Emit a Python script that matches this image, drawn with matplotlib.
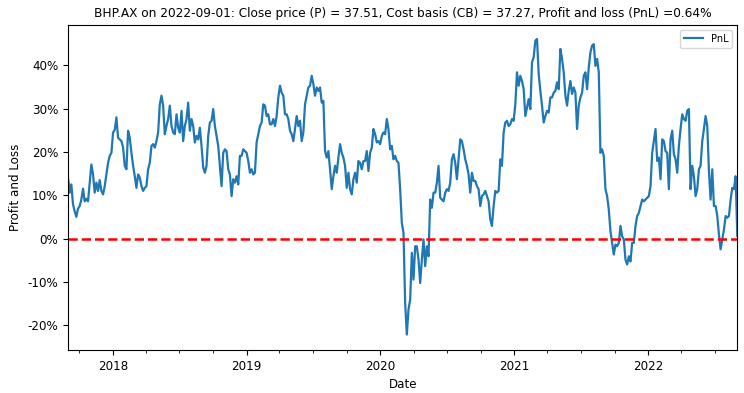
import numpy as np
import pandas as pd
import matplotlib
matplotlib.use('Agg')
import matplotlib.pyplot as plt
import matplotlib.dates as mdates
from matplotlib.ticker import PercentFormatter

params = {
    'font.size': 8.6,
    'font.family': 'DejaVu Sans',
    'xtick.labelsize': 8.6,
    'ytick.labelsize': 8.6,
    'axes.unicode_minus': False,
}
matplotlib.rcParams.update(params)

ticker = 'BHP.AX'
last_date = '2022-09-01'
close_price = 37.51
cost_basis = 37.27
last_pnl = 0.64
start_date = '2017-09-01'

# profit and loss in % (about every 4.5 days)
pnl_2017_18 = [14.1, 10.6, 12.5, 7.9, 6.3, 5.0, 6.9, 7.5, 9.0, 11.5, 8.6, 9.2, 8.6, 12.9, 17.1, 14.8,
               10.6, 12.9, 11.0, 13.5, 11.0, 10.2, 12.1, 14.8, 17.5, 19.1, 19.8, 24.5, 25.1, 28.0, 23.3,
               22.9, 22.5, 21.0, 16.8, 16.0, 24.9, 23.3, 19.8, 16.8, 14.4, 11.7, 14.8, 14.1, 12.1, 11.0,
               11.7, 12.1, 16.0, 17.5, 21.4, 21.8, 21.0, 22.5, 24.5, 31.0, 33.0, 30.7, 24.1, 26.0, 27.6,
               30.7, 26.0, 24.5, 24.1, 28.7, 25.6]
pnl_2018_19 = [24.5, 29.5, 22.5, 26.0, 27.6, 31.4, 24.9, 27.6, 26.0, 22.2, 23.7, 22.9, 25.6, 21.4, 16.4,
               15.2, 16.8, 23.7, 26.8, 27.2, 29.9, 26.0, 23.7, 21.4, 16.8, 12.1, 19.8, 20.6, 20.2, 16.0,
               14.8, 9.8, 13.7, 12.9, 14.4, 12.5, 19.1, 19.1, 20.6, 20.2, 19.8, 17.9, 15.2, 16.0, 14.8,
               15.2, 22.2, 24.1, 26.0, 26.8, 31.0, 30.7, 28.3, 28.7, 26.4, 26.4, 27.6, 26.0, 28.3, 32.6,
               35.3, 33.7, 33.0, 28.7, 28.7, 27.6]
pnl_2019_20 = [24.9, 24.1, 22.5, 25.3, 28.3, 26.0, 27.2, 22.5, 24.5, 31.0, 33.0, 34.9, 35.3, 37.6, 35.7,
               33.0, 34.9, 34.1, 34.9, 31.4, 31.8, 20.2, 18.7, 20.2, 16.0, 11.4, 14.4, 16.8, 15.2, 18.7,
               21.8, 19.8, 18.7, 16.8, 11.7, 15.2, 11.4, 10.2, 13.7, 15.2, 12.9, 17.9, 17.5, 16.0, 17.9,
               17.9, 20.2, 15.6, 19.8, 21.0, 25.3, 24.1, 22.2, 22.5, 21.8, 23.7, 24.5, 24.1, 27.6, 25.3,
               20.6, 21.4, 18.3, 19.1, 17.9, 17.5]
pnl_2020_21 = [11.4, 3.6, 1.3, -14.9, -22.2, -16.4, -14.1, -3.3, -9.5, -1.8, -1.8, -4.9, -10.3, -4.9,
               -0.2, -6.4, -1.8, -4.1, 9.0, 7.1, 10.6, 10.6, 12.9, 16.8, 9.4, 9.0, 8.6, 10.6, 11.4, 11.0,
               12.9, 18.3, 19.5, 17.5, 13.7, 18.3, 22.9, 22.5, 20.6, 18.3, 16.8, 14.8, 10.6, 15.2, 13.3,
               13.3, 12.1, 11.4, 7.5, 9.8, 10.2, 11.0, 9.8, 8.6, 4.4, 2.9, 7.5, 11.0, 10.6, 11.0, 18.3,
               16.8, 24.5, 26.8, 27.2, 26.0]
pnl_2021_22 = [26.4, 27.6, 27.2, 31.0, 38.4, 35.3, 37.6, 36.4, 34.5, 28.3, 30.3, 32.2, 29.9, 40.7, 41.9,
               45.7, 46.1, 38.0, 34.1, 30.7, 26.8, 28.3, 29.5, 29.1, 32.6, 32.6, 33.7, 34.1, 36.1, 34.5,
               43.8, 41.5, 38.4, 33.0, 30.7, 34.1, 36.4, 33.4, 34.9, 33.7, 25.3, 30.7, 32.6, 33.7, 37.6,
               38.4, 34.5, 39.5, 43.0, 44.6, 44.9, 39.9, 41.5, 38.4, 19.8, 20.6, 19.1, 11.4, 9.8, 6.7,
               1.7, -1.0, -3.7, -1.4, -1.8, -1.0]
pnl_2022 = [2.9, 0.5, -0.2, -4.9, -6.0, -4.1, -5.3, -1.0, -1.0, 2.9, 5.2, 5.9, 7.5, 9.0, 8.6, 9.0, 9.4,
            9.8, 12.1, 19.8, 22.5, 25.3, 17.9, 18.7, 13.7, 22.9, 22.5, 20.2, 19.8, 11.4, 22.9, 24.9,
            19.5, 18.3, 15.2, 21.4, 25.3, 28.7, 27.6, 27.2, 29.5, 29.9, 11.4, 16.8, 14.4, 9.8, 11.4,
            16.0, 16.8, 22.5, 25.3, 28.3, 26.0, 15.6, 9.0, 16.0, 7.5, 7.5, 5.2, 0.9, -2.5, -0.2, 2.1,
            5.2, 4.8, 5.2, 9.0, 11.7, 11.4, 14.4, last_pnl]

pnl = pnl_2017_18 + pnl_2018_19 + pnl_2019_20 + pnl_2020_21 + pnl_2021_22 + pnl_2022
dates = pd.date_range(start_date, last_date, periods=len(pnl))

fig = plt.figure(figsize=(7.44, 3.93), dpi=100)
ax = fig.add_axes([0.0914, 0.109, 0.8996, 0.827])
ax.plot(dates, pnl, color='#1f77b4', lw=1.6, label='PnL')
ax.axhline(0, color='red', ls='--', lw=1.8)
ax.set_xlim(dates[0], dates[-1])
ax.set_ylim(-25.8, 49.3)
ax.yaxis.set_major_formatter(PercentFormatter(xmax=100, decimals=0))
ax.set_yticks([-20, -10, 0, 10, 20, 30, 40])
ax.xaxis.set_major_locator(mdates.YearLocator())
ax.xaxis.set_major_formatter(mdates.DateFormatter('%Y'))
ax.xaxis.set_minor_locator(mdates.MonthLocator(bymonth=[1, 4, 7, 10]))
ax.set_xlabel('Date')
ax.set_ylabel('Profit and Loss')
ax.set_title('%s on %s: Close price (P) = %.2f, Cost basis (CB) = %.2f, Profit and loss (PnL) =%.2f%%'
             % (ticker, last_date, close_price, cost_basis, last_pnl), fontsize=8.7)
ax.legend(loc='upper right', fontsize=7)
fig.savefig('out.png', dpi=100)
plt.close()
